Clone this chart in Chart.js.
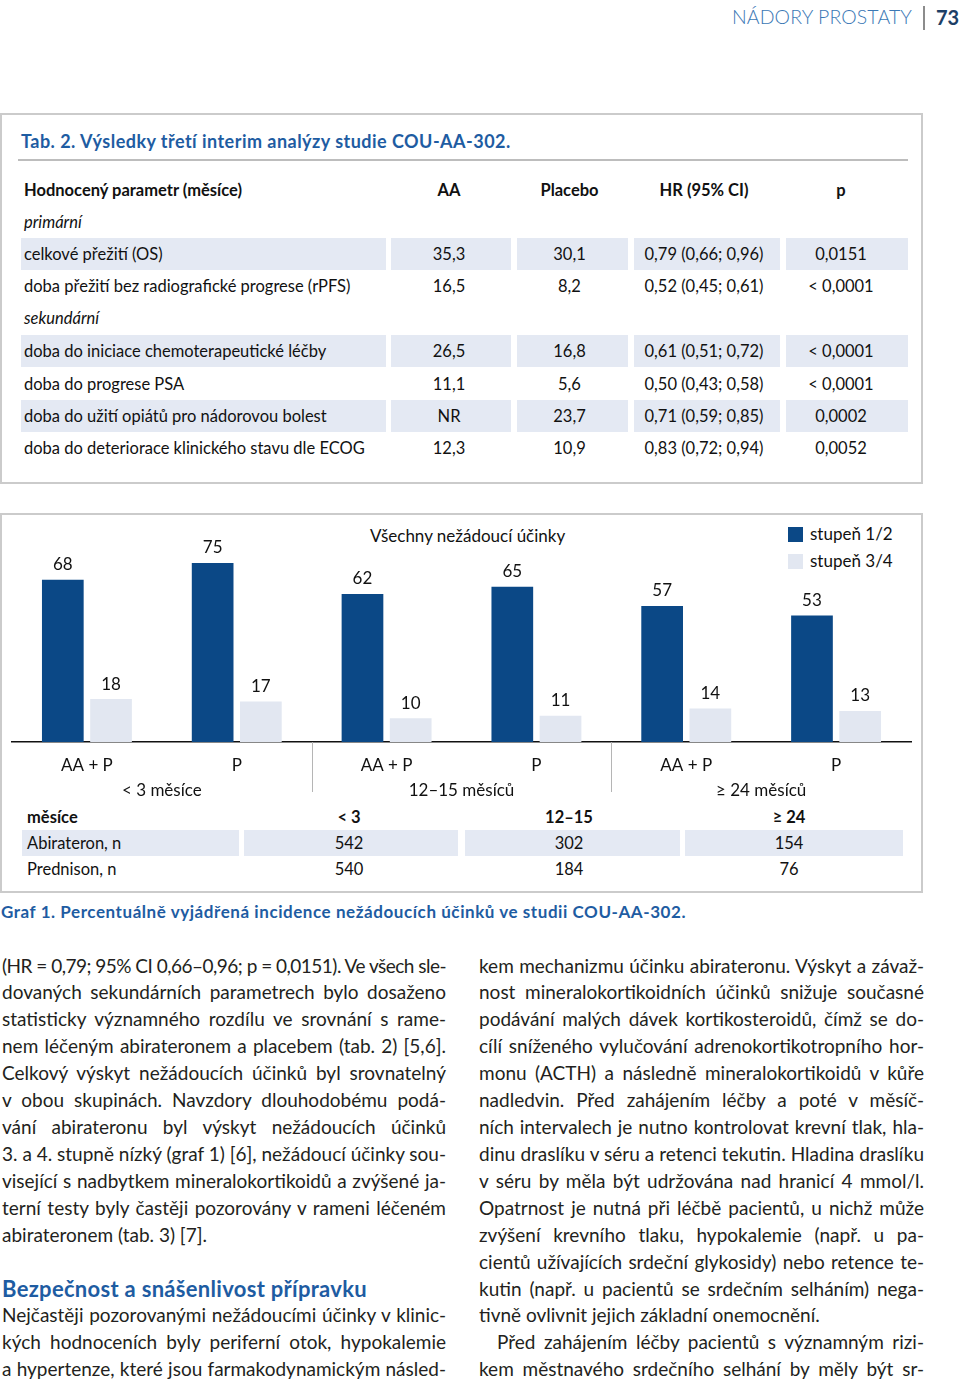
<!DOCTYPE html>
<html lang="cs">
<head>
<meta charset="utf-8">
<title>Graf 1</title>
<script src="https://cdn.jsdelivr.net/npm/chart.js@4.4.1/dist/chart.umd.min.js"></script>
<style>
  html, body { margin: 0; padding: 0; background: #fff; }
  #page { position: relative; width: 960px; height: 1383px; overflow: hidden; font-family: Lato, "Open Sans", sans-serif; color: #231f20; }
  .abs { position: absolute; white-space: nowrap; }
  .box { position: absolute; box-sizing: border-box; border: 2px solid #cbcbcb; }
  .cell { position: absolute; background: #e4e9f3; }
  .tt { position: absolute; white-space: nowrap; font-size: 16.5px; line-height: 32px; height: 32px; color: #111; }
  .ctr { width: 200px; text-align: center; }
  .body { position: absolute; font-size: 19px; line-height: 26.93px; color: #231f20; }
  .ln { white-space: nowrap; height: 26.93px; }
  .blue { color: #1e5ca2; }
  #chartWrap { position: absolute; left: 0; top: 516px; width: 923px; height: 287px; }
</style>
</head>
<body>
<div id="page">
  <!-- running head -->
  <div class="abs fx" data-w="180" style="left:732px; top:4px; font-size:19.5px; font-weight:300; color:#3b78b5; line-height:26px;"><span>NÁDORY PROSTATY</span></div>
  <div class="abs" style="left:923px; top:6px; width:1.5px; height:24px; background:#8c8c8c;"></div>
  <div class="abs" style="left:936px; top:4px; font-size:20px; font-weight:700; color:#1d3f66; line-height:26px;">73</div>

  <!-- Tab. 2 -->
  <div class="box" style="left:0; top:113px; width:923px; height:371px;"></div>
  <div class="abs fx blue" data-w="490" style="left:21px; top:129px; font-size:18px; font-weight:700; line-height:24px;"><span>Tab. 2. Výsledky třetí interim analýzy studie COU-AA-302.</span></div>
  <div class="abs" style="left:18px; top:159px; width:890px; height:2px; background:#bdbdbd;"></div>
  <div id="tab"></div>

  <!-- Graf 1 -->
  <div class="box" style="left:0; top:513px; width:923px; height:380px;"></div>
  <div class="abs" style="left:370px; top:524px; font-size:17px; line-height:24px; color:#111;">Všechny nežádoucí účinky</div>
  <div id="legend"></div>
  <div id="chartWrap"><canvas id="chart"></canvas></div>
  <div id="ntab"></div>
  <div class="abs fx blue" data-w="685" style="left:1px; top:900px; font-size:17px; font-weight:700; line-height:24px;"><span>Graf 1. Percentuálně vyjádřená incidence nežádoucích účinků ve studii COU-AA-302.</span></div>

  <!-- text columns -->
  <div class="body" style="left:2px; top:952.5px; width:444px;">
    <div class="ln j" data-w="444"><span>(HR = 0,79; 95% CI 0,66–0,96; p = 0,0151). Ve všech sle-</span></div>
    <div class="ln j" data-w="444"><span>dovaných sekundárních parametrech bylo dosaženo</span></div>
    <div class="ln j" data-w="444"><span>statisticky významného rozdílu ve srovnání s rame-</span></div>
    <div class="ln j" data-w="444"><span>nem léčeným abirateronem a placebem (tab. 2) [5,6].</span></div>
    <div class="ln j" data-w="444"><span>Celkový výskyt nežádoucích účinků byl srovnatelný</span></div>
    <div class="ln j" data-w="444"><span>v obou skupinách. Navzdory dlouhodobému podá-</span></div>
    <div class="ln j" data-w="444"><span>vání abirateronu byl výskyt nežádoucích účinků</span></div>
    <div class="ln j" data-w="444"><span>3. a 4. stupně nízký (graf 1) [6], nežádoucí účinky sou-</span></div>
    <div class="ln j" data-w="444"><span>visející s nadbytkem mineralokortikoidů a zvýšené ja-</span></div>
    <div class="ln j" data-w="444"><span>terní testy byly častěji pozorovány v rameni léčeném</span></div>
    <div class="ln" data-w="208"><span>abirateronem (tab. 3) [7].</span></div>
    <div class="ln"></div>
    <div class="ln fx blue" data-w="365" style="font-size:22px; font-weight:700;"><span>Bezpečnost a snášenlivost přípravku</span></div>
    <div class="ln j" data-w="444"><span>Nejčastěji pozorovanými nežádoucími účinky v klinic-</span></div>
    <div class="ln j" data-w="444"><span>kých hodnoceních byly periferní otok, hypokalemie</span></div>
    <div class="ln j" data-w="444"><span>a hypertenze, které jsou farmakodynamickým násled-</span></div>
  </div>
  <div class="body" style="left:479px; top:952.5px; width:445px;">
    <div class="ln j" data-w="445"><span>kem mechanizmu účinku abirateronu. Výskyt a závaž-</span></div>
    <div class="ln j" data-w="445"><span>nost mineralokortikoidních účinků snižuje současné</span></div>
    <div class="ln j" data-w="445"><span>podávání malých dávek kortikosteroidů, čímž se do-</span></div>
    <div class="ln j" data-w="445"><span>cílí sníženého vylučování adrenokortikotropního hor-</span></div>
    <div class="ln j" data-w="445"><span>monu (ACTH) a následně mineralokortikoidů v kůře</span></div>
    <div class="ln j" data-w="445"><span>nadledvin. Před zahájením léčby a poté v měsíč-</span></div>
    <div class="ln j" data-w="445"><span>ních intervalech je nutno kontrolovat krevní tlak, hla-</span></div>
    <div class="ln j" data-w="445"><span>dinu draslíku v séru a retenci tekutin. Hladina draslíku</span></div>
    <div class="ln j" data-w="445"><span>v séru by měla být udržována nad hranicí 4 mmol/l.</span></div>
    <div class="ln j" data-w="445"><span>Opatrnost je nutná při léčbě pacientů, u nichž může</span></div>
    <div class="ln j" data-w="445"><span>zvýšení krevního tlaku, hypokalemie (např. u pa-</span></div>
    <div class="ln j" data-w="445"><span>cientů užívajících srdeční glykosidy) nebo retence te-</span></div>
    <div class="ln j" data-w="445"><span>kutin (např. u pacientů se srdečním selháním) nega-</span></div>
    <div class="ln" data-w="362"><span>tivně ovlivnit jejich základní onemocnění.</span></div>
    <div class="ln j" data-w="427" style="padding-left:18px;"><span>Před zahájením léčby pacientů s významným rizi-</span></div>
    <div class="ln j" data-w="445"><span>kem městnavého srdečního selhání by měly být sr-</span></div>
  </div>
</div>

<script>
// chart data
const groups = ['< 3 měsíce', '12–15 měsíců', '≥ 24 měsíců'];
const arms = ['AA + P', 'P', 'AA + P', 'P', 'AA + P', 'P'];
const seriesNames = ['stupeň 1/2', 'stupeň 3/4'];
const grade12 = [68, 75, 62, 65, 57, 53];
const grade34 = [18, 17, 10, 11, 14, 13];
const colors = ['#0b4886', '#e2e7f1'];

// patient counts under the chart
const nMonths = ['< 3', '12–15', '≥ 24'];
const nAbirateron = [542, 302, 154];
const nPrednison = [540, 184, 76];

// Tab. 2 rows
const tabRows = [
    ['Hodnocený parametr (měsíce)', 'AA', 'Placebo', 'HR (95% CI)', 'p', 190, 'head'],
    ['primární', '', '', '', '', 222, 'ital'],
    ['celkové přežití (OS)', '35,3', '30,1', '0,79 (0,66; 0,96)', '0,0151', 254, 'shade'],
    ['doba přežití bez radiografické progrese (rPFS)', '16,5', '8,2', '0,52 (0,45; 0,61)', '< 0,0001', 286, ''],
    ['sekundární', '', '', '', '', 318, 'ital'],
    ['doba do iniciace chemoterapeutické léčby', '26,5', '16,8', '0,61 (0,51; 0,72)', '< 0,0001', 351, 'shade'],
    ['doba do progrese PSA', '11,1', '5,6', '0,50 (0,43; 0,58)', '< 0,0001', 384, ''],
    ['doba do užití opiátů pro nádorovou bolest', 'NR', '23,7', '0,71 (0,59; 0,85)', '0,0002', 416, 'shade'],
    ['doba do deteriorace klinického stavu dle ECOG', '12,3', '10,9', '0,83 (0,72; 0,94)', '0,0052', 448, '']
];

let html = '';
const tabCells = [[21, 386], [391, 511], [517, 628], [634, 780], [786, 908]];
const tabCenters = [449, 569.5, 704, 841];
tabRows.forEach(r => {
    const y = r[5] - 16;
    if (r[6] === 'shade') {
        tabCells.forEach(c => {
            html += `<div class="cell" style="left:${c[0]}px; top:${y}px; width:${c[1] - c[0]}px; height:32px;"></div>`;
        });
    }
    let st = r[6] === 'head' ? 'font-weight:700;' : (r[6] === 'ital' ? 'font-style:italic;' : '');
    html += `<div class="tt" style="left:24px; top:${y}px; ${st}">${r[0]}</div>`;
    for (let i = 0; i < 4; i++) {
        if (r[i + 1]) html += `<div class="tt ctr" style="left:${tabCenters[i] - 100}px; top:${y}px; ${st}">${r[i + 1]}</div>`;
    }
});
document.getElementById('tab').innerHTML = html;

html = '';
const nCells = [[22, 239], [244, 458], [465, 680], [685, 903]];
const nCenters = [349, 569, 789];
[['měsíce', nMonths, 817, 'head'], ['Abirateron, n', nAbirateron, 843, 'shade'], ['Prednison, n', nPrednison, 869, '']].forEach(r => {
    const y = r[2] - 13;
    if (r[3] === 'shade') {
        nCells.forEach(c => {
            html += `<div class="cell" style="left:${c[0]}px; top:${y}px; width:${c[1] - c[0]}px; height:26px;"></div>`;
        });
    }
    let st = r[3] === 'head' ? 'font-weight:700;' : '';
    html += `<div class="tt" style="left:27px; top:${y}px; height:26px; line-height:26px; ${st}">${r[0]}</div>`;
    r[1].forEach((v, i) => {
        html += `<div class="tt ctr" style="left:${nCenters[i] - 100}px; top:${y}px; height:26px; line-height:26px; ${st}">${v}</div>`;
    });
});
document.getElementById('ntab').innerHTML = html;

// legend, stacked vertically like the original
html = '';
seriesNames.forEach((s, i) => {
    const y = 527 + i * 27;
    html += `<div class="abs" style="left:788px; top:${y}px; width:15px; height:15px; background:${colors[i]};"></div>`;
    html += `<div class="abs" style="left:810px; top:${y - 5}px; font-size:17px; line-height:24px; color:#111;">${s}</div>`;
});
document.getElementById('legend').innerHTML = html;

// values above bars
const valueLabels = {
    id: 'valueLabels',
    afterDatasetsDraw(chart) {
        const ctx = chart.ctx;
        ctx.save();
        ctx.font = '17px Lato';
        ctx.fillStyle = '#111';
        ctx.textAlign = 'center';
        ctx.textBaseline = 'middle';
        chart.data.datasets.forEach((ds, di) => {
            chart.getDatasetMeta(di).data.forEach((bar, i) => {
                ctx.fillText(ds.data[i], bar.x, bar.y - 15);
            });
        });
        ctx.restore();
    }
};

// thin vertical lines between the time groups
const groupLines = {
    id: 'groupLines',
    afterDraw(chart) {
        const x = chart.scales.x, x2 = chart.scales.x2;
        const ctx = chart.ctx;
        ctx.save();
        ctx.strokeStyle = '#b5b5b5';
        ctx.lineWidth = 1;
        for (let i = 1; i < groups.length; i++) {
            const px = Math.round((x2.getPixelForTick(i - 1) + x2.getPixelForTick(i)) / 2) + 0.5;
            ctx.beginPath();
            ctx.moveTo(px, x.top);
            ctx.lineTo(px, x.top + 50);
            ctx.stroke();
        }
        ctx.restore();
    }
};

Chart.defaults.font.family = 'Lato';
Chart.defaults.color = '#111';

new Chart(document.getElementById('chart'), {
    type: 'bar',
    data: {
        labels: arms,
        datasets: [
            {
                label: seriesNames[0],
                data: grade12,
                backgroundColor: colors[0],
                xAxisID: 'x',
                categoryPercentage: 0.6435,
                barPercentage: 0.865
            },
            {
                label: seriesNames[1],
                data: grade34,
                backgroundColor: colors[1],
                xAxisID: 'x',
                categoryPercentage: 0.6435,
                barPercentage: 0.865
            }
        ]
    },
    options: {
        responsive: true,
        maintainAspectRatio: false,
        animation: false,
        layout: {
            padding: { top: 35, bottom: 0, left: 12, right: 12 }
        },
        scales: {
            x: {
                offset: true,
                grid: { display: false, drawTicks: false },
                border: { display: true, color: '#111', width: 1.5 },
                ticks: { padding: 13, font: { size: 17 }, maxRotation: 0, autoSkip: false },
                afterFit: (axis) => { axis.height = 31; }
            },
            x2: {
                type: 'category',
                labels: groups,
                position: 'bottom',
                offset: true,
                grid: { display: false, drawTicks: false },
                border: { display: false },
                ticks: { padding: 7, font: { size: 17 }, maxRotation: 0, autoSkip: false },
                afterFit: (axis) => { axis.height = 30; }
            },
            y: {
                display: false,
                min: 0,
                max: 80
            }
        },
        plugins: {
            legend: { display: false },
            tooltip: { enabled: false }
        }
    },
    plugins: [valueLabels, groupLines]
});

// justify each printed line to the column width
let fitText = () => {
    document.querySelectorAll('.ln, .fx').forEach(el => {
        const span = el.querySelector('span');
        if (!span) return;
        const target = parseFloat(el.dataset.w);
        span.style.letterSpacing = '0px';
        span.style.wordSpacing = '0px';
        const txt = span.textContent;
        let w = span.getBoundingClientRect().width;
        if (el.classList.contains('j')) {
            if (w > target) {
                span.style.letterSpacing = ((target - w) / txt.length) + 'px';
                w = span.getBoundingClientRect().width;
            }
            const spaces = (txt.match(/ /g) || []).length;
            if (spaces) span.style.wordSpacing = ((target - w) / spaces) + 'px';
        } else if (el.classList.contains('fx') || w > target) {
            span.style.letterSpacing = ((target - w) / txt.length) + 'px';
        }
    });
}
fitText();
document.fonts.ready.then(fitText);
</script>
</body>
</html>
